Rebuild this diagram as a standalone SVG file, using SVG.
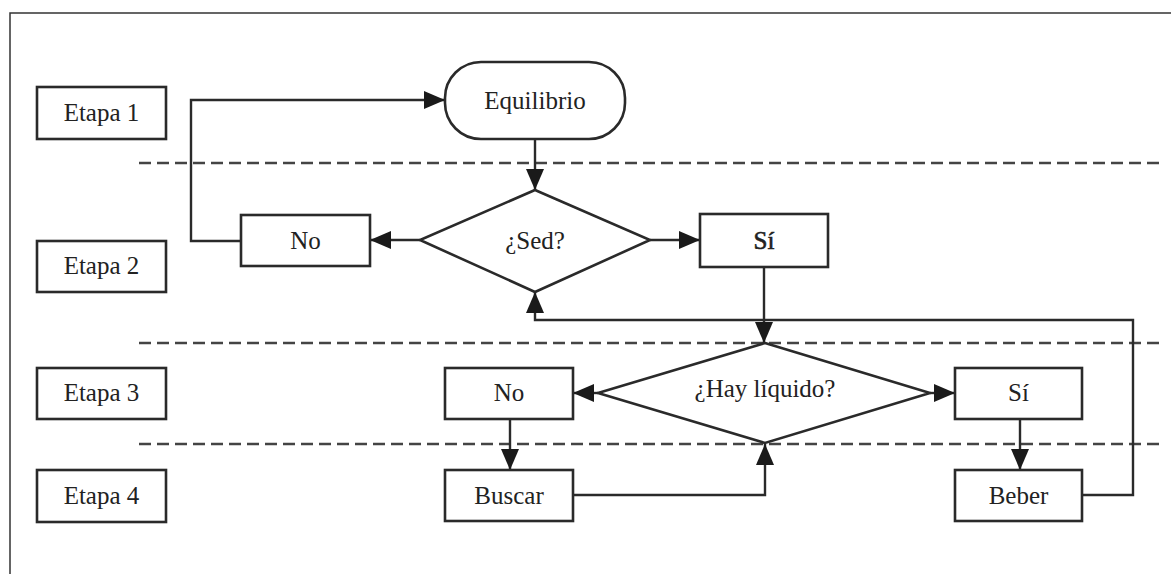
<svg xmlns="http://www.w3.org/2000/svg" width="1171" height="574" viewBox="0 0 1171 574">
<defs>
<style>
.box{fill:#fff;stroke:#2a2a2a;stroke-width:2.6}
.ln{fill:none;stroke:#2a2a2a;stroke-width:2.4}
.dash{fill:none;stroke:#444;stroke-width:2.6;stroke-dasharray:12 6}
.t{font-family:"Liberation Serif",serif;font-size:25px;fill:#222;text-anchor:middle}
</style>
<marker id="ah" viewBox="0 0 21 18" refX="21" refY="9" markerWidth="21" markerHeight="18" markerUnits="userSpaceOnUse" orient="auto">
<path d="M0,0 L21,9 L0,18 Z" fill="#1a1a1a"/>
</marker>
</defs>
<rect width="1171" height="574" fill="#fff"/>
<path d="M10,574 L10,13 L1171,13" fill="none" stroke="#333" stroke-width="1.5"/>
<g id="separators">
<line class="dash" x1="139" y1="163" x2="1160" y2="163"/>
<line class="dash" x1="139" y1="343" x2="1160" y2="343"/>
<line class="dash" x1="139" y1="444" x2="1160" y2="444"/>
</g>
<g id="etapa1"><rect class="box" x="37" y="87" width="129" height="52"/><text class="t" x="101.5" y="121">Etapa 1</text></g>
<g id="etapa2"><rect class="box" x="37" y="241" width="129" height="51"/><text class="t" x="101.5" y="274">Etapa 2</text></g>
<g id="etapa3"><rect class="box" x="37" y="368" width="129" height="51"/><text class="t" x="101.5" y="401">Etapa 3</text></g>
<g id="etapa4"><rect class="box" x="37" y="470" width="129" height="52"/><text class="t" x="101.5" y="504">Etapa 4</text></g>
<g id="connectors">
<path class="ln" d="M241,241 L191,241 L191,100 L445,100" marker-end="url(#ah)"/>
<path class="ln" d="M535,139 L535,190" marker-end="url(#ah)"/>
<path class="ln" d="M420,240 L370,240" marker-end="url(#ah)"/>
<path class="ln" d="M650,240 L700,240" marker-end="url(#ah)"/>
<path class="ln" d="M764,267 L764,343" marker-end="url(#ah)"/>
<path class="ln" d="M1082,495 L1133,495 L1133,320 L535,320 L535,292" marker-end="url(#ah)"/>
<path class="ln" d="M598,393 L573,393" marker-end="url(#ah)"/>
<path class="ln" d="M930,393 L955,393" marker-end="url(#ah)"/>
<path class="ln" d="M510,419 L510,470" marker-end="url(#ah)"/>
<path class="ln" d="M573,495 L765,495 L765,444" marker-end="url(#ah)"/>
<path class="ln" d="M1020,419 L1020,470" marker-end="url(#ah)"/>
</g>
<g id="equilibrio"><rect class="box" x="445" y="62" width="180" height="77" rx="36" ry="36"/><text class="t" x="535" y="109">Equilibrio</text></g>
<g id="sed"><polygon class="box" points="535,190 650,240 535,292 420,240"/><text class="t" x="535" y="249">¿Sed?</text></g>
<g id="no1"><rect class="box" x="241" y="215" width="129" height="51"/><text class="t" x="305.5" y="249">No</text></g>
<g id="si1"><rect class="box" x="700" y="214" width="128" height="53"/><text class="t" x="764" y="249" stroke="#222" stroke-width="0.6">Sí</text></g>
<g id="hayliquido"><polygon class="box" points="765,343 930,393 765,443 598,393"/><text class="t" x="765" y="397">¿Hay líquido?</text></g>
<g id="no2"><rect class="box" x="445" y="368" width="128" height="51"/><text class="t" x="509" y="401">No</text></g>
<g id="buscar"><rect class="box" x="445" y="470" width="128" height="51"/><text class="t" x="509" y="504">Buscar</text></g>
<g id="si2"><rect class="box" x="955" y="368" width="127" height="51"/><text class="t" x="1018.5" y="401">Sí</text></g>
<g id="beber"><rect class="box" x="955" y="470" width="127" height="51"/><text class="t" x="1018.5" y="504">Beber</text></g>
</svg>
